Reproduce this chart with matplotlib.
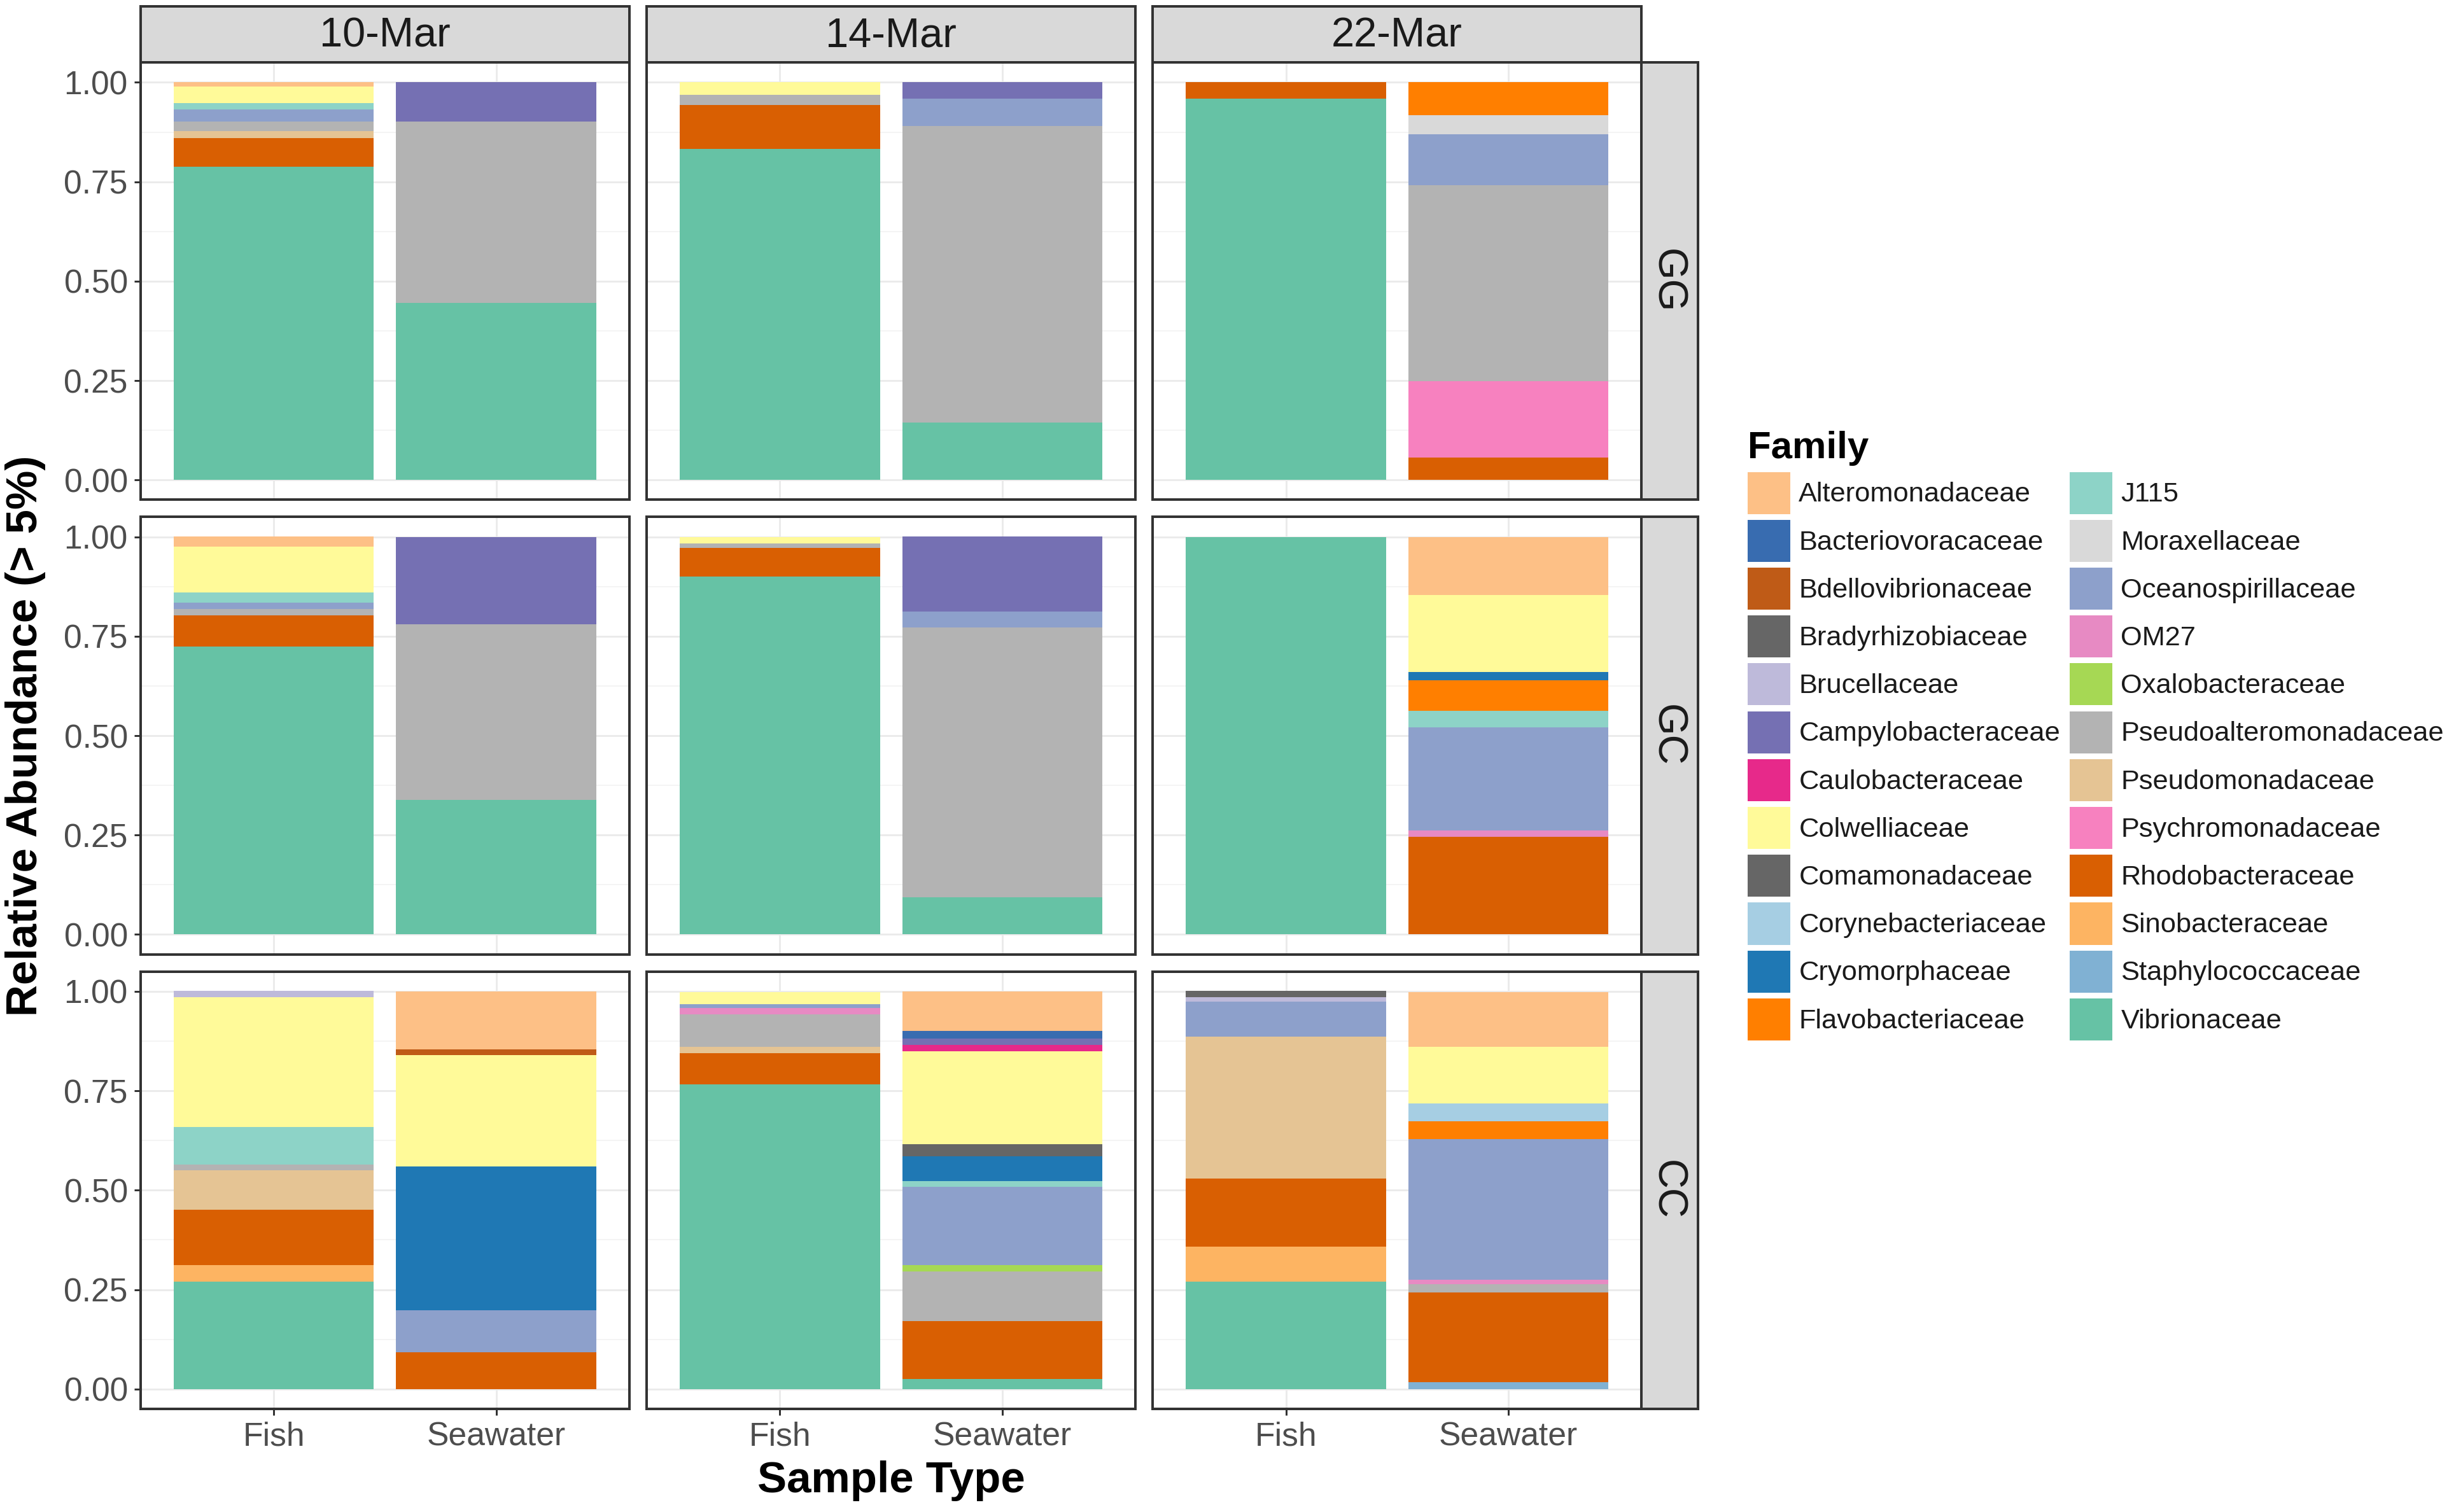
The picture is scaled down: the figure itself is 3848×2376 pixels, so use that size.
import matplotlib
matplotlib.use("Agg")
import matplotlib.pyplot as plt
from matplotlib.patches import Patch
import numpy as np

plt.rcParams['font.family'] = ['Liberation Sans', 'DejaVu Sans']

dates = ["10-Mar", "14-Mar", "22-Mar"]
sites = ["GG", "GC", "CC"]
sample_types = ["Fish", "Seawater"]

# one value per bar, order: site (GG, GC, CC) x date (10, 14, 22) x sample (Fish, Seawater)
alteromonadaceae = [.011, 0, 0, 0, 0, 0, .026, 0, 0, 0, 0, .146, 0, .145, 0, .099, 0, .139]
bacteriovoracaceae = [0, 0, 0, 0, 0, 0, 0, 0, 0, 0, 0, 0, 0, 0, 0, .020, 0, 0]
bdellovibrionaceae = [0, 0, 0, 0, 0, 0, 0, 0, 0, 0, 0, 0, 0, .015, 0, 0, 0, 0]
bradyrhizobiaceae = [0, 0, 0, 0, 0, 0, 0, 0, 0, 0, 0, 0, 0, 0, 0, 0, .015, 0]
brucellaceae = [0, 0, 0, 0, 0, 0, 0, 0, 0, 0, 0, 0, .015, 0, 0, 0, .011, 0]
campylobacteraceae = [0, .099, 0, .041, 0, 0, 0, .219, 0, .188, 0, 0, 0, 0, 0, .015, 0, 0]
caulobacteraceae = [0, 0, 0, 0, 0, 0, 0, 0, 0, 0, 0, 0, 0, 0, 0, .016, 0, 0]
colwelliaceae = [.041, 0, .032, 0, 0, 0, .115, 0, .017, 0, 0, .194, .327, .280, .031, .234, 0, .141]
comamonadaceae = [0, 0, 0, 0, 0, 0, 0, 0, 0, 0, 0, 0, 0, 0, 0, .030, 0, 0]
corynebacteriaceae = [0, 0, 0, 0, 0, 0, 0, 0, 0, 0, 0, 0, 0, 0, 0, 0, 0, .046]
cryomorphaceae = [0, 0, 0, 0, 0, 0, 0, 0, 0, 0, 0, .020, 0, .362, 0, .063, 0, 0]
flavobacteriaceae = [0, 0, 0, 0, 0, .083, 0, 0, 0, 0, 0, .078, 0, 0, 0, 0, 0, .045]
j115 = [.016, 0, 0, 0, 0, 0, .025, 0, 0, 0, 0, .041, .094, 0, 0, .015, 0, 0]
moraxellaceae = [0, 0, 0, 0, 0, .048, 0, 0, 0, 0, 0, 0, 0, 0, 0, 0, 0, 0]
oceanospirillaceae = [.031, 0, 0, .068, 0, .129, .016, 0, 0, .041, 0, .260, 0, .105, .010, .196, .088, .353]
om27 = [0, 0, 0, 0, 0, 0, 0, 0, 0, 0, 0, .016, 0, 0, .016, 0, 0, .011]
oxalobacteraceae = [0, 0, 0, 0, 0, 0, 0, 0, 0, 0, 0, 0, 0, 0, 0, .016, 0, 0]
pseudoalteromonadaceae = [.024, .456, .025, .746, 0, .492, .017, .442, .010, .679, 0, 0, .015, 0, .082, .125, 0, .021]
pseudomonadaceae = [.017, 0, 0, 0, 0, 0, 0, 0, 0, 0, 0, 0, .099, 0, .016, 0, .358, 0]
psychromonadaceae = [0, 0, 0, 0, 0, .192, 0, 0, 0, 0, 0, 0, 0, 0, 0, 0, 0, 0]
rhodobacteraceae = [.072, 0, .110, 0, .041, .057, .078, 0, .073, 0, 0, .245, .139, .093, .078, .145, .171, .226]
sinobacteraceae = [0, 0, 0, 0, 0, 0, 0, 0, 0, 0, 0, 0, .042, 0, 0, 0, .088, 0]
staphylococcaceae = [0, 0, 0, 0, 0, 0, 0, 0, 0, 0, 0, 0, 0, 0, 0, 0, 0, .017]
vibrionaceae = [.788, .445, .833, .145, .959, 0, .724, .339, .900, .093, 1.0, 0, .270, 0, .766, .026, .270, 0]

families = ["Alteromonadaceae", "Bacteriovoracaceae", "Bdellovibrionaceae", "Bradyrhizobiaceae",
            "Brucellaceae", "Campylobacteraceae", "Caulobacteraceae", "Colwelliaceae",
            "Comamonadaceae", "Corynebacteriaceae", "Cryomorphaceae", "Flavobacteriaceae",
            "J115", "Moraxellaceae", "Oceanospirillaceae", "OM27", "Oxalobacteraceae",
            "Pseudoalteromonadaceae", "Pseudomonadaceae", "Psychromonadaceae",
            "Rhodobacteraceae", "Sinobacteraceae", "Staphylococcaceae", "Vibrionaceae"]
values = [alteromonadaceae, bacteriovoracaceae, bdellovibrionaceae, bradyrhizobiaceae,
          brucellaceae, campylobacteraceae, caulobacteraceae, colwelliaceae,
          comamonadaceae, corynebacteriaceae, cryomorphaceae, flavobacteriaceae,
          j115, moraxellaceae, oceanospirillaceae, om27, oxalobacteraceae,
          pseudoalteromonadaceae, pseudomonadaceae, psychromonadaceae,
          rhodobacteraceae, sinobacteraceae, staphylococcaceae, vibrionaceae]
colors = ["#FDC086", "#386CB0", "#BF5B17", "#666666", "#BEBADA", "#7570B3", "#E7298A",
          "#FFFA99", "#666666", "#A6CEE3", "#1F78B4", "#FF7F00", "#8DD3C7", "#D9D9D9",
          "#8DA0CB", "#E78AC3", "#A6D854", "#B3B3B3", "#E5C494", "#F781BF", "#D95F02",
          "#FDB462", "#80B1D3", "#66C2A5"]

data = np.array(values)  # families x 18 bars

fig = plt.figure(figsize=(3848 / 240, 2376 / 240), dpi=240)

col_left = [90 / 1568, 414 / 1568, 738 / 1568]
col_w = 313 / 1568
row_bottom = [1 - 320 / 968, 1 - 611 / 968, 1 - 902 / 968]
row_h = 280 / 968
strip_h = 36 / 968
strip_w = 36 / 1568

border = "#333333"
x = np.arange(1, 3)

for r, site in enumerate(sites):
    for c, date in enumerate(dates):
        ax = fig.add_axes([col_left[c], row_bottom[r], col_w, row_h])
        idx = r * 6 + c * 2
        bottom = np.zeros(2)
        # ggplot puts the first level on top, so stack from the last family upward
        for f in range(len(families) - 1, -1, -1):
            h = data[f, idx:idx + 2]
            ax.bar(x, h, width=0.9, bottom=bottom, color=colors[f], linewidth=0, zorder=2)
            bottom += h
        ax.set_xlim(0.4, 2.6)
        ax.set_ylim(-0.05, 1.05)
        ax.set_yticks([0, 0.25, 0.5, 0.75, 1.0])
        ax.set_yticks([0.125, 0.375, 0.625, 0.875], minor=True)
        ax.set_xticks(x)
        ax.grid(True, which='major', color='#EBEBEB', linewidth=0.9, zorder=0)
        ax.grid(True, which='minor', axis='y', color='#F2F2F2', linewidth=0.5, zorder=0)
        ax.set_axisbelow(True)
        for s in ax.spines.values():
            s.set_color(border)
            s.set_linewidth(1.2)
        ax.tick_params(which='minor', length=0)
        ax.tick_params(which='major', length=3, width=0.9, color=border,
                       labelsize=15.5, labelcolor='#4D4D4D', pad=3)
        if c == 0:
            ax.set_yticklabels(["0.00", "0.25", "0.50", "0.75", "1.00"])
        else:
            ax.tick_params(axis='y', length=0, labelleft=False)
        if r == 2:
            ax.set_xticklabels(sample_types)
        else:
            ax.tick_params(axis='x', length=0, labelbottom=False)

        if r == 0:
            st = fig.add_axes([col_left[c], row_bottom[0] + row_h, col_w, strip_h])
            st.set_facecolor('#D9D9D9')
            st.set_xticks([])
            st.set_yticks([])
            for s in st.spines.values():
                s.set_color(border)
                s.set_linewidth(1.2)
            st.text(0.5, 0.47, date, ha='center', va='center', fontsize=19.5,
                    color='#1A1A1A', transform=st.transAxes)
        if c == 2:
            st = fig.add_axes([col_left[2] + col_w, row_bottom[r], strip_w, row_h])
            st.set_facecolor('#D9D9D9')
            st.set_xticks([])
            st.set_yticks([])
            for s in st.spines.values():
                s.set_color(border)
                s.set_linewidth(1.2)
            st.text(0.45, 0.5, site, ha='center', va='center', fontsize=19.5,
                    color='#1A1A1A', rotation=-90, transform=st.transAxes)

fig.text(0.0105, 1 - 471 / 968, "Relative Abundance (> 5%)", rotation=90, ha='center',
         va='center', fontsize=20.7, fontweight='bold')
fig.text(570.5 / 1568, 1 - 948 / 968, "Sample Type", ha='center', va='center',
         fontsize=20.7, fontweight='bold')

handles = [Patch(facecolor=col, edgecolor='none', linewidth=0) for col in colors]
leg = fig.legend(handles, families, ncol=2, loc='upper left',
                 bbox_to_anchor=(1119 / 1568, 1 - 276 / 968), frameon=False,
                 fontsize=13, handlelength=1.55, handleheight=1.97, labelspacing=0.21,
                 handletextpad=0.3, columnspacing=0.35, borderpad=0, borderaxespad=0,
                 title="Family", alignment='left',
                 title_fontproperties={'size': 18, 'weight': 'bold'})
for t in leg.get_texts():
    t.set_color('#1A1A1A')

fig.savefig("out.png", dpi=240, facecolor='white')
